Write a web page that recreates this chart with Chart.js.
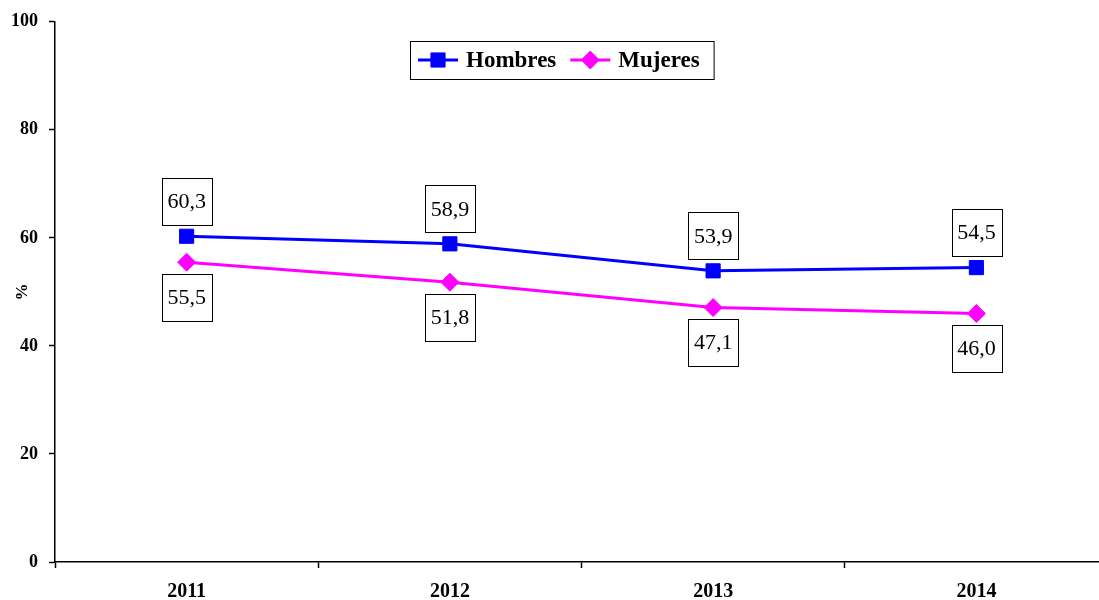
<!DOCTYPE html>
<html>
<head>
<meta charset="utf-8">
<script src="https://cdn.jsdelivr.net/npm/chart.js@4/dist/chart.umd.min.js"></script>
<style>
  html, body { margin: 0; padding: 0; background: #fff; overflow: hidden; }
  #wrap { width: 1099px; height: 600px; }
</style>
</head>
<body>
<div id="wrap"><canvas id="chart" width="1099" height="600"></canvas></div>
<script>
const years = ['2011', '2012', '2013', '2014'];
const hombres = [60.3, 58.9, 53.9, 54.5];
const mujeres = [55.5, 51.8, 47.1, 46.0];
const yTicks = [0, 20, 40, 60, 80, 100];

const SERIF = '"Liberation Serif", "Times New Roman", serif';

const fmt = (v) => v.toFixed(1).replace('.', ',');

// the plot area runs a little past the right edge of the picture
const extendRight = {
  id: 'extendRight',
  afterLayout(chart) {
    const x = chart.scales.x;
    x.right = chart.width + 9;
    x.width = x.right - x.left;
    x.configure();
    chart.chartArea.right = x.right;
    chart.chartArea.width = x.right - chart.chartArea.left;
  }
};

// boxed value labels, above for Hombres and below for Mujeres
const boxLabels = {
  id: 'boxLabels',
  afterDatasetsDraw(chart) {
    const ctx = chart.ctx;
    ctx.save();
    ctx.font = '22px ' + SERIF;
    ctx.textAlign = 'center';
    ctx.textBaseline = 'middle';
    chart.data.datasets.forEach((ds, i) => {
      const meta = chart.getDatasetMeta(i);
      const dir = i === 0 ? -1 : 1;
      meta.data.forEach((pt, j) => {
        const text = fmt(ds.data[j]);
        const w = ctx.measureText(text).width + 11;
        const h = 47;
        const cx = pt.x;
        const cy = pt.y + dir * 35;
        ctx.fillStyle = '#fff';
        ctx.fillRect(cx - w / 2, cy - h / 2, w, h);
        ctx.strokeStyle = '#000';
        ctx.lineWidth = 1;
        ctx.strokeRect(Math.round(cx - w / 2) + 0.5, Math.round(cy - h / 2) + 0.5, Math.round(w), h);
        ctx.fillStyle = '#000';
        ctx.fillText(text, cx, cy + 1);
      });
    });
    ctx.restore();
  }
};

// legend box with line + marker samples
const boxLegend = {
  id: 'boxLegend',
  afterDraw(chart) {
    const ctx = chart.ctx;
    const left = 410, top = 41, height = 38;
    ctx.save();
    ctx.font = 'bold 23px ' + SERIF;
    ctx.textBaseline = 'middle';
    const cy = top + height / 2;
    let x = left + 8;
    const items = chart.data.datasets.map((ds) => ({
      label: ds.label, color: ds.borderColor, style: ds.pointStyle, r: ds.pointRadius
    }));
    const widths = items.map((it) => ctx.measureText(it.label).width);
    const total = items.reduce((s, it, k) => s + 40 + 8 + widths[k], 0) + 12 + 8 + 16;
    ctx.fillStyle = '#fff';
    ctx.fillRect(left, top, total, height);
    ctx.strokeStyle = '#000';
    ctx.lineWidth = 1;
    ctx.strokeRect(left + 0.5, top + 0.5, total, height);
    items.forEach((it, k) => {
      ctx.strokeStyle = it.color;
      ctx.lineWidth = 3;
      ctx.beginPath();
      ctx.moveTo(x, cy);
      ctx.lineTo(x + 40, cy);
      ctx.stroke();
      ctx.fillStyle = it.color;
      ctx.strokeStyle = it.color;
      ctx.lineWidth = 1;
      Chart.helpers.drawPoint(ctx, {
        pointStyle: it.style, radius: it.r, borderWidth: 1, rotation: 0
      }, x + 20, cy);
      ctx.fillStyle = '#000';
      ctx.fillText(it.label, x + 48, cy + 1);
      x += 40 + 8 + widths[k] + 14;
    });
    ctx.restore();
  }
};

new Chart(document.getElementById('chart'), {
  type: 'line',
  data: {
    labels: years,
    datasets: [
      {
        label: 'Hombres',
        data: hombres,
        borderColor: '#0000FF',
        backgroundColor: '#0000FF',
        borderWidth: 3,
        pointStyle: 'rect',
        pointRadius: 10,
        pointBorderWidth: 1,
        tension: 0
      },
      {
        label: 'Mujeres',
        data: mujeres,
        borderColor: '#FF00FF',
        backgroundColor: '#FF00FF',
        borderWidth: 3,
        pointStyle: 'rectRot',
        pointRadius: 9,
        pointBorderWidth: 1,
        tension: 0
      }
    ]
  },
  options: {
    responsive: false,
    animation: false,
    events: [],
    layout: { padding: { top: 21, left: 0, right: 0, bottom: 0 } },
    plugins: {
      legend: { display: false },
      tooltip: { enabled: false }
    },
    scales: {
      x: {
        offset: true,
        grid: {
          offset: true,
          drawOnChartArea: false,
          tickLength: 6,
          color: '#000',
          tickWidth: 1.5
        },
        border: { color: '#000', width: 1.5 },
        ticks: {
          color: '#000',
          padding: 12,
          font: { family: SERIF, size: 20, weight: 'bold' },
          maxRotation: 0
        },
        afterFit(scale) { scale.height = 38; }
      },
      y: {
        min: 0,
        max: 100,
        afterBuildTicks(scale) { scale.ticks = yTicks.map((v) => ({ value: v })); },
        grid: {
          drawOnChartArea: false,
          tickLength: 6,
          color: '#000',
          tickWidth: 1.5
        },
        border: { color: '#000', width: 1.5 },
        ticks: {
          color: '#000',
          padding: 11,
          font: { family: SERIF, size: 18, weight: 'bold' }
        },
        title: {
          display: true,
          text: '%',
          color: '#000',
          padding: { top: 12, bottom: 0 },
          font: { family: SERIF, size: 17, weight: 'bold' }
        },
        afterFit(scale) { scale.width = 55; }
      }
    }
  },
  plugins: [extendRight, boxLabels, boxLegend]
});
</script>
</body>
</html>
